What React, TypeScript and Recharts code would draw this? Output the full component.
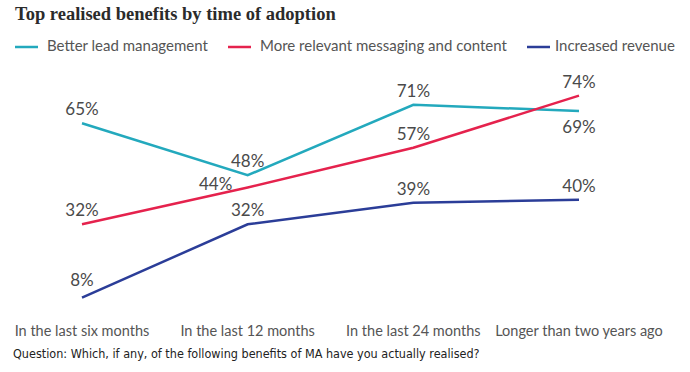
import { LineChart, Line, XAxis, YAxis, LabelList } from 'recharts';

const categories = [
  'In the last six months',
  'In the last 12 months',
  'In the last 24 months',
  'Longer than two years ago',
];
const leadManagement = [65, 48, 71, 69];
const relevantMessaging = [32, 44, 57, 74];
const increasedRevenue = [8, 32, 39, 40];

const series = [
  { key: 'lead', name: 'Better lead management', color: '#23a9bd', values: leadManagement },
  { key: 'messaging', name: 'More relevant messaging and content', color: '#e5224d', values: relevantMessaging },
  { key: 'revenue', name: 'Increased revenue', color: '#2b3d98', values: increasedRevenue },
];

const data = categories.map((cat, i) => {
  const row: Record<string, string | number> = { cat };
  series.forEach((s) => {
    row[s.key] = s.values[i];
  });
  return row;
});

const legendItems = [
  { x: 15, textX: 47 },
  { x: 228, textX: 260 },
  { x: 527, textX: 555 },
];

// label placement: most sit above the point, a couple are moved to avoid the lines
const makeLabel = (seriesKey: string) => (props: any) => {
  const { x, y, value, index } = props;
  let lx = x;
  let ly = y - 8;
  if (seriesKey === 'lead' && index === 3) ly = y + 22;
  if (seriesKey === 'messaging' && index === 1) {
    lx = x - 32;
    ly = y + 2;
  }
  if (seriesKey === 'revenue' && index === 0) ly = y - 12;
  return (
    <text
      x={lx}
      y={ly}
      textAnchor="middle"
      fontFamily="Lato, sans-serif"
      fontSize={17}
      fill="#4a4a4a"
    >
      {value}%
    </text>
  );
};

export default function App() {
  return (
    <div style={{ position: 'absolute', left: 0, top: 0, width: 690, height: 372, background: '#fff' }}>
      <LineChart
        width={690}
        height={372}
        data={data}
        margin={{ top: 77.3, right: 0, bottom: 19.8, left: 0 }}
      >
        <XAxis
          dataKey="cat"
          interval={0}
          height={30}
          axisLine={false}
          tickLine={false}
          tickSize={0}
          tickMargin={4}
          padding={{ left: 82, right: 111 }}
          tick={{ fontFamily: 'Lato, sans-serif', fontSize: 14.5, fill: '#555' }}
        />
        <YAxis hide domain={[0, 80]} />
        {series.map((s) => (
          <Line
            key={s.key}
            dataKey={s.key}
            name={s.name}
            stroke={s.color}
            strokeWidth={2.5}
            dot={false}
            type="linear"
            isAnimationActive={false}
          >
            <LabelList dataKey={s.key} content={makeLabel(s.key)} />
          </Line>
        ))}
      </LineChart>
      <svg
        width={690}
        height={372}
        style={{ position: 'absolute', left: 0, top: 0, pointerEvents: 'none' }}
      >
        <text x={15} y={20} fontFamily="'Liberation Serif', serif" fontWeight="bold" fontSize={18.5} fill="#2b2b2b">
          Top realised benefits by time of adoption
        </text>
        {series.map((s, i) => (
          <g key={s.key}>
            <line x1={legendItems[i].x} x2={legendItems[i].x + 23} y1={47} y2={47} stroke={s.color} strokeWidth={2.5} />
            <text x={legendItems[i].textX} y={51} fontFamily="Lato, sans-serif" fontSize={15} fill="#555">
              {s.name}
            </text>
          </g>
        ))}
        <text x={13} y={358} fontFamily="'Liberation Sans Narrow', 'DejaVu Sans Condensed', sans-serif" fontSize={12.5} fill="#222">
          Question: Which, if any, of the following benefits of MA have you actually realised?
        </text>
      </svg>
    </div>
  );
}
